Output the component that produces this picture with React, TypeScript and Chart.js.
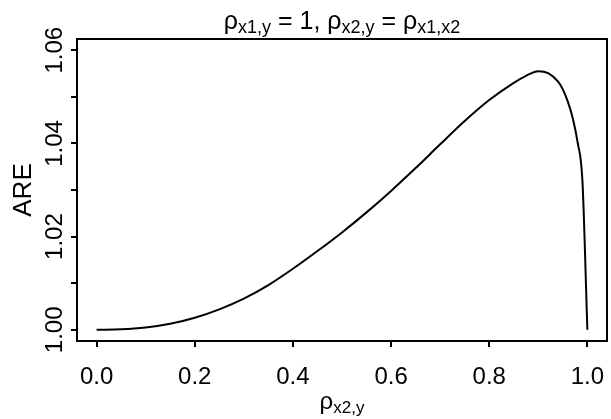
import React, { useEffect, useRef } from 'react';
import { Chart, registerables } from 'chart.js';

Chart.register(...registerables);

// ---- data ----
const rhoX2Y = [0, 0.05, 0.1, 0.15, 0.2, 0.25, 0.3, 0.35, 0.4, 0.45, 0.5, 0.55, 0.6, 0.65, 0.7, 0.75, 0.8, 0.85, 0.875, 0.9, 0.92, 0.94, 0.95, 0.96, 0.97, 0.98, 0.99, 1.0];
const areValues = [1.0, 1.0001, 1.0005, 1.0013, 1.0026, 1.0044, 1.0067, 1.0096, 1.0131, 1.0169, 1.0209, 1.0252, 1.0298, 1.0347, 1.0398, 1.0448, 1.0493, 1.053, 1.0545, 1.0555, 1.0551, 1.0533, 1.0516, 1.049, 1.0455, 1.0403, 1.0318, 1.0];
const xTickValues = [0, 0.2, 0.4, 0.6, 0.8, 1.0];
const xTickLabels = ['0.0', '0.2', '0.4', '0.6', '0.8', '1.0'];
const yTickValues = [1.0, 1.01, 1.02, 1.03, 1.04, 1.05, 1.06];
const yTickLabels = ['1.00', '', '1.02', '', '1.04', '', '1.06'];
const xRange = [-0.04, 1.04];
const yRange = [0.9976, 1.0624];
const yAxisTitle = 'ARE';
type Run = { t: string; sub?: boolean };
const titleRuns: Run[] = [
  { t: 'ρ' }, { t: 'x1,y', sub: true }, { t: ' = 1, ρ' }, { t: 'x2,y', sub: true }, { t: ' = ρ' }, { t: 'x1,x2', sub: true },
];
const xTitleRuns: Run[] = [{ t: 'ρ' }, { t: 'x2,y', sub: true }];

const FONT = "'Liberation Sans', Arial, Helvetica, sans-serif";

function drawRuns(ctx: CanvasRenderingContext2D, runs: Run[], cx: number, baseline: number, size: number, subSize: number, drop: number) {
  const fontFor = (r: Run) => `${r.sub ? subSize : size}px ${FONT}`;
  let total = 0;
  const widths = runs.map((r) => {
    ctx.font = fontFor(r);
    const w = ctx.measureText(r.t).width;
    total += w;
    return w;
  });
  let x = cx - total / 2;
  ctx.fillStyle = '#000';
  ctx.textAlign = 'left';
  ctx.textBaseline = 'alphabetic';
  runs.forEach((r, i) => {
    ctx.font = fontFor(r);
    ctx.fillText(r.t, x, baseline + (r.sub ? drop : 0));
    x += widths[i];
  });
}

const framePlugin = {
  id: 'rFrame',
  afterDraw(chart: any) {
    const { ctx, chartArea: a } = chart;
    ctx.save();
    ctx.strokeStyle = '#000';
    ctx.lineWidth = 2;
    ctx.strokeRect(a.left, a.top, a.right - a.left, a.bottom - a.top);
    const cx = (a.left + a.right) / 2;
    drawRuns(ctx, titleRuns, cx, 29, 25, 18, 4);
    drawRuns(ctx, xTitleRuns, cx, 409, 24, 17, 4);
    ctx.restore();
  },
};

export default function App() {
  const ref = useRef<HTMLCanvasElement | null>(null);
  useEffect(() => {
    if (!ref.current) return;
    const chart = new Chart(ref.current, {
      type: 'line',
      data: {
        datasets: [
          {
            data: rhoX2Y.map((x, i) => ({ x, y: areValues[i] })),
            borderColor: '#000',
            borderWidth: 2,
            pointRadius: 0,
            fill: false,
            cubicInterpolationMode: 'monotone',
          },
        ],
      },
      options: {
        responsive: false,
        animation: false,
        events: [],
        layout: { padding: { top: 39, right: 4, left: 0, bottom: 0 } },
        plugins: { legend: { display: false }, tooltip: { enabled: false }, title: { display: false } },
        scales: {
          x: {
            type: 'linear',
            min: xRange[0],
            max: xRange[1],
            border: { display: false },
            grid: { display: true, drawOnChartArea: false, drawTicks: true, tickLength: 6, color: '#000', lineWidth: 2 },
            ticks: {
              color: '#000',
              font: { family: FONT, size: 24 },
              padding: 16,
              maxRotation: 0,
              minRotation: 0,
              autoSkip: false,
              callback: (_v: any, i: number) => xTickLabels[i],
            },
            afterBuildTicks: (s: any) => {
              s.ticks = xTickValues.map((v) => ({ value: v }));
            },
            afterFit: (s: any) => {
              s.height = 78;
              s.paddingLeft = 0;
              s.paddingRight = 0;
            },
          },
          y: {
            type: 'linear',
            min: yRange[0],
            max: yRange[1],
            border: { display: false },
            grid: { display: true, drawOnChartArea: false, drawTicks: true, tickLength: 6, color: '#000', lineWidth: 2 },
            ticks: {
              color: '#000',
              font: { family: FONT, size: 24 },
              padding: -8,
              crossAlign: 'center',
              minRotation: 90,
              maxRotation: 90,
              autoSkip: false,
              callback: (_v: any, i: number) => yTickLabels[i],
            },
            title: { display: true, text: yAxisTitle, color: '#000', font: { family: FONT, size: 26 }, padding: { top: 8, bottom: 0 } },
            afterBuildTicks: (s: any) => {
              s.ticks = yTickValues.map((v) => ({ value: v }));
            },
            afterFit: (s: any) => {
              s.width = 77;
              s.paddingTop = 0;
              s.paddingBottom = 0;
            },
          },
        },
      },
      plugins: [framePlugin],
    } as any);
    return () => chart.destroy();
  }, []);
  return (
    <div style={{ position: 'absolute', left: 0, top: 0, width: 611, height: 419, background: '#fff' }}>
      <canvas ref={ref} width={611} height={419} style={{ display: 'block' }} />
    </div>
  );
}
